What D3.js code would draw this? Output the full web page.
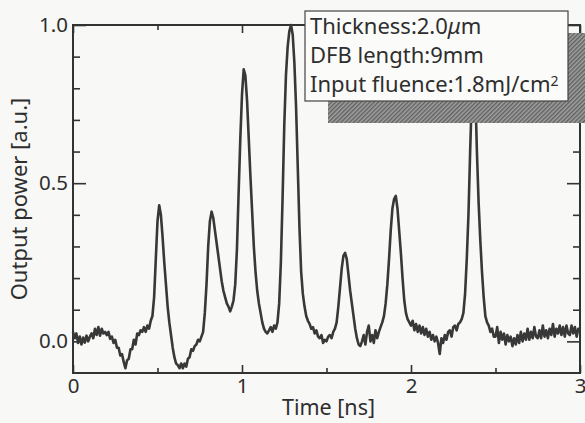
<!DOCTYPE html>
<html>
<head>
<meta charset="utf-8">
<script src="https://cdn.jsdelivr.net/npm/d3@7"></script>
<style>
  html, body { margin: 0; padding: 0; background: #f8f8f6; }
  svg { display: block; }
  text { font-family: "Noto Sans", "DejaVu Sans", sans-serif; fill: #2e2e2e; }
</style>
</head>
<body>
<svg id="chart" width="585" height="423"></svg>
<script>
// Output power trace, sampled every 0.01 ns from 0 to 3 ns
const sampleStepNs = 0.01;
const outputPower = [
  0.03, 0.01, 0.025, -0.005, 0.015, -0.01, 0.012, -0.004, 0.018, 0.0,
  0.015, 0.025, 0.01, 0.04, 0.02, 0.045, 0.018, 0.04, 0.025, 0.03,
  0.02, 0.03, 0.008, 0.015, -0.005, 0.005, -0.02, -0.02, -0.045, -0.04,
  -0.065, -0.085, -0.06, -0.055, -0.025, -0.025, 0.005, -0.01, 0.025, 0.02,
  0.035, 0.03, 0.045, 0.03, 0.05, 0.04, 0.065, 0.08, 0.14, 0.26,
  0.38, 0.43, 0.40, 0.33, 0.25, 0.18, 0.11, 0.06, 0.02, -0.02,
  -0.05, -0.07, -0.075, -0.085, -0.07, -0.085, -0.07, -0.08, -0.055, -0.05,
  -0.025, -0.03, -0.015, -0.01, 0.005, 0.0, 0.015, 0.03, 0.09, 0.18,
  0.30, 0.38, 0.41, 0.39, 0.35, 0.31, 0.27, 0.23, 0.19, 0.16,
  0.14, 0.12, 0.11, 0.095, 0.11, 0.13, 0.18, 0.29, 0.47, 0.64,
  0.78, 0.86, 0.84, 0.76, 0.64, 0.52, 0.41, 0.30, 0.22, 0.16,
  0.12, 0.09, 0.06, 0.04, 0.03, 0.025, 0.035, 0.045, 0.03, 0.05,
  0.04, 0.06, 0.12, 0.25, 0.45, 0.68, 0.84, 0.93, 0.98, 1.0,
  0.97, 0.88, 0.74, 0.55, 0.36, 0.22, 0.15, 0.11, 0.08, 0.065,
  0.055, 0.04, 0.045, 0.025, 0.035, 0.015, 0.01, 0.02, -0.005, 0.005,
  0.0, 0.015, 0.02, 0.01, 0.03, 0.04, 0.06, 0.11, 0.17, 0.23,
  0.27, 0.28, 0.26, 0.21, 0.16, 0.12, 0.08, 0.04, 0.01, -0.01,
  -0.015, 0.0, 0.02, -0.01, 0.03, 0.05, 0.0, 0.02, -0.005, 0.035,
  0.01, 0.03, 0.045, 0.06, 0.08, 0.12, 0.18, 0.26, 0.35, 0.42,
  0.45, 0.46, 0.42, 0.35, 0.28, 0.20, 0.13, 0.09, 0.07, 0.06,
  0.05, 0.065, 0.035, 0.055, 0.03, 0.05, 0.025, 0.045, 0.02, 0.04,
  0.015, 0.03, 0.005, 0.02, 0.0, 0.015, -0.005, -0.04, 0.01, -0.005,
  0.02, 0.005, 0.03, 0.035, 0.015, 0.045, 0.05, 0.035, 0.055, 0.06,
  0.07, 0.09, 0.15, 0.26, 0.40, 0.60, 0.78, 0.88, 0.80, 0.60,
  0.44, 0.32, 0.22, 0.14, 0.08, 0.06, 0.05, 0.03, 0.04, 0.015,
  0.015, 0.045, -0.005, 0.03, 0.005, 0.025, -0.01, 0.02, 0.0, 0.015,
  -0.015, 0.01, -0.01, 0.02, -0.005, 0.03, 0.0, 0.025, 0.005, 0.04,
  0.005, 0.03, 0.01, 0.045, 0.015, 0.01, 0.035, 0.01, 0.05, 0.015,
  0.035, 0.01, 0.04, 0.02, 0.055, 0.015, 0.04, 0.025, 0.05, 0.02,
  0.045, 0.015, 0.05, 0.025, 0.02, 0.05, 0.025, 0.045, 0.015, 0.04,
  0.035
];

const timeDomain = [0, 3];
const powerDomain = [-0.1, 1.0];
const timeMajorTicks = [0, 1, 2, 3];
const timeMinorTicks = [0.5, 1.5, 2.5];
const powerMajorTicks = [0.0, 0.5, 1.0];
const powerMinorTicks = [0.1, 0.2, 0.3, 0.4, 0.6, 0.7, 0.8, 0.9];
const legendLines = ["Thickness:2.0", "DFB length:9mm", "Input fluence:1.8mJ/cm"];

const svg = d3.select("#chart");
const x = d3.scaleLinear().domain(timeDomain).range([73, 580]);
const y = d3.scaleLinear().domain(powerDomain).range([373, 25]);

const ink = "#333";

// Frame
svg.append("rect")
  .attr("x", x(0)).attr("y", y(1.0))
  .attr("width", x(3) - x(0)).attr("height", y(-0.1) - y(1.0))
  .attr("fill", "none").attr("stroke", ink).attr("stroke-width", 2);

function styleAxis(g) {
  g.select(".domain").remove();
  g.selectAll(".tick line").attr("stroke", ink).attr("stroke-width", 1.6);
  g.selectAll(".tick text").attr("fill", "#2e2e2e").style("font-size", "20.5px");
}

// Bottom axis (labels) and inward ticks
svg.append("g").attr("transform", `translate(0,${y(-0.1)})`)
  .call(d3.axisBottom(x).tickValues(timeMajorTicks).tickFormat(d3.format("d"))
    .tickSizeInner(-8).tickSizeOuter(0).tickPadding(4))
  .call(styleAxis)
  .call(g => g.selectAll(".tick text").attr("dy", "0.78em"));
svg.append("g").attr("transform", `translate(0,${y(-0.1)})`)
  .call(d3.axisBottom(x).tickValues(timeMinorTicks).tickFormat("")
    .tickSizeInner(-5).tickSizeOuter(0))
  .call(styleAxis);
// Top ticks
svg.append("g").attr("transform", `translate(0,${y(1.0)})`)
  .call(d3.axisTop(x).tickValues(timeMajorTicks).tickFormat("")
    .tickSizeInner(-8).tickSizeOuter(0))
  .call(styleAxis);
svg.append("g").attr("transform", `translate(0,${y(1.0)})`)
  .call(d3.axisTop(x).tickValues(timeMinorTicks).tickFormat("")
    .tickSizeInner(-5).tickSizeOuter(0))
  .call(styleAxis);

// Left axis
svg.append("g").attr("transform", `translate(${x(0)},0)`)
  .call(d3.axisLeft(y).tickValues(powerMajorTicks).tickFormat(d3.format(".1f"))
    .tickSizeInner(-13).tickSizeOuter(0).tickPadding(5))
  .call(styleAxis);
svg.append("g").attr("transform", `translate(${x(0)},0)`)
  .call(d3.axisLeft(y).tickValues(powerMinorTicks).tickFormat("")
    .tickSizeInner(-7).tickSizeOuter(0))
  .call(styleAxis);
// Right ticks
svg.append("g").attr("transform", `translate(${x(3)},0)`)
  .call(d3.axisRight(y).tickValues(powerMajorTicks).tickFormat("")
    .tickSizeInner(-13).tickSizeOuter(0))
  .call(styleAxis);
svg.append("g").attr("transform", `translate(${x(3)},0)`)
  .call(d3.axisRight(y).tickValues(powerMinorTicks).tickFormat("")
    .tickSizeInner(-7).tickSizeOuter(0))
  .call(styleAxis);

// Axis titles
svg.append("text")
  .attr("x", (x(0) + x(3)) / 2 + 2).attr("y", 415)
  .attr("text-anchor", "middle").style("font-size", "21.5px")
  .text("Time [ns]");
svg.append("text")
  .attr("transform", `translate(27,${y(0.45)}) rotate(-90)`)
  .attr("text-anchor", "middle").style("font-size", "22px")
  .text("Output power [a.u.]");

// Trace
const line = d3.line()
  .x((d, i) => x(i * sampleStepNs))
  .y(d => y(d))
  .curve(d3.curveLinear);
svg.append("path")
  .datum(outputPower)
  .attr("d", line)
  .attr("fill", "none")
  .attr("stroke", "#383838")
  .attr("stroke-width", 2.6)
  .attr("stroke-linejoin", "round");

// Legend box with hatched drop shadow
const defs = svg.append("defs");
const pat = defs.append("pattern")
  .attr("id", "hatch").attr("patternUnits", "userSpaceOnUse")
  .attr("width", 3).attr("height", 3)
  .attr("patternTransform", "rotate(45)");
pat.append("rect").attr("width", 3).attr("height", 3).attr("fill", "#a0a0a0");
pat.append("rect").attr("width", 1.4).attr("height", 3).attr("fill", "#606060");

const box = { x: 305, y: 11, w: 263, h: 90 };
svg.append("rect")
  .attr("x", box.x + 23).attr("y", box.y + 22)
  .attr("width", box.w).attr("height", box.h)
  .attr("fill", "url(#hatch)");
svg.append("rect")
  .attr("x", box.x).attr("y", box.y)
  .attr("width", box.w).attr("height", box.h)
  .attr("fill", "#fbfbfa").attr("stroke", "#444").attr("stroke-width", 1.2);

const legendText = svg.append("g").style("font-size", "22px");
legendText.selectAll("text")
  .data(legendLines)
  .join("text")
  .attr("x", box.x + 5)
  .attr("y", (d, i) => box.y + 23 + i * 29)
  .each(function (d, i) {
    const t = d3.select(this);
    t.append("tspan").text(d);
    if (i === 0) {
      t.append("tspan").style("font-style", "italic").text("\u03bc");
      t.append("tspan").text("m");
    }
    if (i === 2) {
      t.append("tspan").attr("dy", "-0.45em").style("font-size", "14px").text("2");
    }
  });
</script>
</body>
</html>
